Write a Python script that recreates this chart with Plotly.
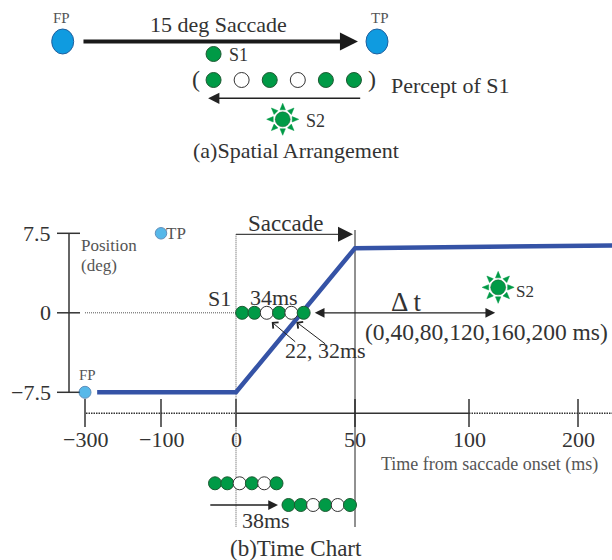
import numpy as np
import plotly.graph_objects as go

# ---------------- data ----------------
# (b) time chart
TIME_TICKS = [-300, -100, 0, 50, 100, 200]            # ms from saccade onset
TIME_TICK_TEXT = ["−300", "−100", "0", "50", "100", "200"]
POS_TICKS = [7.5, 0.0, -7.5]                          # deg
POS_TICK_TEXT = ["7.5", "0", "−7.5"]

EYE_T = [-268, 0, 50, 235]                            # eye trace, ms
EYE_POS = [-7.5, -7.5, 6.1, 6.35]                     # eye trace, deg

FP_TIME, FP_POS = -300, -7.5
TP_TIME, TP_POS = -100, 7.5
SACCADE_ON, SACCADE_OFF = 0, 50
S2_TIME, S2_POS = 124, 2.4

S1_PATTERN = [1, 1, 0, 1, 0, 1]                       # lit (1) / dark (0) flashes of S1
S1_DURATION_MS = 34
DARK_FLASH_MS = [22, 32]
S1_SHIFT_MS = 38
DELTA_T_MS = [0, 40, 80, 120, 160, 200]

# (a) spatial arrangement, deg of visual angle
SACCADE_AMP = 15
FP_DEG, TP_DEG = -7.5, 7.5
S1_DEG = -0.3
PERCEPT_STEP_DEG = 1.34
S2_DEG = 3.0
PERCEPT_PATTERN = S1_PATTERN[::-1]

# ---------------- styling ----------------
W, H = 612, 560
SERIF = "Liberation Serif"
TXT = "#333333"
GREY = "#555555"
AXC = "#333333"
GREEN, GREEN_EDGE = "#009a46", "#1d5a32"
BLUE, BLUE_EDGE = "#0f9be0", "#1f5f9e"
EYE_BLUE = "#3553a6"

# broken time axis: display position of each tick
TICK_U = [85, 161, 236, 355, 469, 578]


def tx(t):
    """Map ms onto the piecewise time axis."""
    t = np.asarray(t, dtype=float)
    u = np.interp(t, TIME_TICKS, TICK_U)
    slope = (TICK_U[-1] - TICK_U[-2]) / (TIME_TICKS[-1] - TIME_TICKS[-2])
    u = np.where(t > TIME_TICKS[-1], TICK_U[-1] + (t - TIME_TICKS[-1]) * slope, u)
    return u if u.ndim else float(u)


# position axis of (b)
Y0_PX, PX_PER_DEG = 312.8, 10.6
Y_RANGE = [-(H - Y0_PX) / PX_PER_DEG, Y0_PX / PX_PER_DEG]


def yb(px):
    """Row (px from top) -> deg on the position axis of (b)."""
    return (Y0_PX - px) / PX_PER_DEG


# horizontal axis of (a)
A_PX_PER_DEG = 314.3 / SACCADE_AMP
A_X0 = 62.7 - FP_DEG * A_PX_PER_DEG
A_RANGE = [-A_X0 / A_PX_PER_DEG, (W - A_X0) / A_PX_PER_DEG]


def xa(px):
    return (px - A_X0) / A_PX_PER_DEG


fig = go.Figure()
ann = []


def label(text, x, y, size, ref="b", color=TXT, xanchor="center", yanchor="middle"):
    xr, yr = ("x", "y") if ref == "b" else ("x2", "y2")
    ann.append(dict(text=text, x=x, y=y, xref=xr, yref=yr, showarrow=False,
                    xanchor=xanchor, yanchor=yanchor,
                    font=dict(family=SERIF, size=size, color=color)))


def arrow(x, y, ax, ay, width, size, ref="b", head=2, color="#222222", both=False):
    xr, yr = ("x", "y") if ref == "b" else ("x2", "y2")
    ann.append(dict(text="", x=x, y=y, ax=ax, ay=ay, xref=xr, yref=yr,
                    axref=xr, ayref=yr, showarrow=True, arrowhead=head,
                    arrowsize=size, arrowwidth=width, arrowcolor=color,
                    standoff=0, startstandoff=0,
                    arrowside="end+start" if both else "end",
                    startarrowhead=head, startarrowsize=size))


def seg(xs, ys, color=AXC, width=1.5, dash="solid", ref="b"):
    fig.add_trace(go.Scatter(x=xs, y=ys, mode="lines", hoverinfo="skip",
                             line=dict(color=color, width=width, dash=dash),
                             xaxis="x" if ref == "b" else "x2",
                             yaxis="y" if ref == "b" else "y2"))


def dots(xs, ys, pattern, size, ref="b"):
    fills = [GREEN if p else "white" for p in pattern]
    edges = [GREEN_EDGE if p else "#333333" for p in pattern]
    fig.add_trace(go.Scatter(x=xs, y=ys, mode="markers", hoverinfo="skip",
                             marker=dict(size=size, color=fills,
                                         line=dict(color=edges, width=1)),
                             cliponaxis=False,
                             xaxis="x" if ref == "b" else "x2",
                             yaxis="y" if ref == "b" else "y2"))


def sun(cx, cy, kx, ky, ref="b"):
    """Flashing-stimulus glyph: disc with eight rays (offsets in px)."""
    xs, ys = [], []
    for k in range(8):
        th = np.deg2rad(45 * k)
        d = np.array([np.sin(th), -np.cos(th)])
        p = np.array([np.cos(th), np.sin(th)])
        pts = [9.5 * d + 2.7 * p, 16.0 * d, 9.5 * d - 2.7 * p, 9.5 * d + 2.7 * p]
        for q in pts:
            xs.append(cx + q[0] * kx)
            ys.append(cy + q[1] * ky)
        xs.append(None)
        ys.append(None)
    xa_, ya_ = ("x", "y") if ref == "b" else ("x2", "y2")
    fig.add_trace(go.Scatter(x=xs, y=ys, mode="lines", fill="toself",
                             fillcolor=GREEN, line=dict(color=GREEN, width=0.5),
                             hoverinfo="skip", xaxis=xa_, yaxis=ya_))
    fig.add_trace(go.Scatter(x=[cx], y=[cy], mode="markers", hoverinfo="skip",
                             marker=dict(size=15, color=GREEN,
                                         line=dict(color=GREEN_EDGE, width=0.5)),
                             xaxis=xa_, yaxis=ya_))


# ================= (a) Spatial arrangement =================
ROW_SAC, ROW_S1, ROW_PERCEPT, ROW_BACK, ROW_S2 = 41.5, 54, 80, 98.3, 119.3

shapes = []
for deg in (FP_DEG, TP_DEG):
    shapes.append(dict(type="circle", xref="x2", yref="y2",
                       x0=deg - 11 / A_PX_PER_DEG, x1=deg + 11 / A_PX_PER_DEG,
                       y0=ROW_SAC - 12.5, y1=ROW_SAC + 12.5,
                       fillcolor=BLUE, line=dict(color=BLUE_EDGE, width=1)))
label("FP", FP_DEG - 0.07, 18, 15, ref="a", color=GREY)
label("TP", TP_DEG + 0.15, 18, 15, ref="a", color=GREY)
label(f"{SACCADE_AMP} deg Saccade", xa(218), 24, 22, ref="a")
arrow(TP_DEG - 0.91, ROW_SAC, FP_DEG + 0.92, ROW_SAC, 4, 0.9, ref="a", color="#1a1a1a")

dots([S1_DEG], [ROW_S1], [1], 15, ref="a")
label("S1", S1_DEG + 0.66, ROW_S1 + 1, 18, ref="a", xanchor="left")

percept_x = [S1_DEG + i * PERCEPT_STEP_DEG for i in range(len(PERCEPT_PATTERN))]
dots(percept_x, [ROW_PERCEPT] * len(percept_x), PERCEPT_PATTERN, 15, ref="a")
label("(", percept_x[0] - 0.83, ROW_PERCEPT - 1, 24, ref="a")
label(")", percept_x[-1] + 0.86, ROW_PERCEPT - 1, 24, ref="a")
label("Percept of S1", xa(389), ROW_PERCEPT + 5, 22, ref="a", xanchor="left")
arrow(percept_x[0] - 0.26, ROW_BACK, percept_x[-1] + 0.37, ROW_BACK, 1.5, 1.5, ref="a")

sun(S2_DEG, ROW_S2, 1 / A_PX_PER_DEG, 1.0, ref="a")
label("S2", S2_DEG + 1.0, ROW_S2 + 2, 18, ref="a", xanchor="left")
label("(a)Spatial Arrangement", xa(295.5), 150.5, 22, ref="a")

# ================= (b) Time chart =================
AXIS_Y = yb(413.3)
YAXIS_U = 69

# position axis
seg([YAXIS_U, YAXIS_U], [POS_TICKS[0], POS_TICKS[-1]])
for v, t in zip(POS_TICKS, POS_TICK_TEXT):
    seg([57, 80], [v, v])
    label(t, 53, v, 22, xanchor="right")
label("Position", 79, yb(245), 17, color=GREY, xanchor="left")
label("(deg)", 79, yb(265), 17, color=GREY, xanchor="left")

# time axis: dotted outside the saccade window
seg([tx(TIME_TICKS[0]) + 1, tx(SACCADE_ON)], [AXIS_Y] * 2, dash="1.5px,1px")
seg([tx(SACCADE_ON), tx(100)], [AXIS_Y] * 2)
seg([tx(100), W], [AXIS_Y] * 2, dash="1.5px,1px")
for t, txt in zip(TIME_TICKS, TIME_TICK_TEXT):
    seg([tx(t)] * 2, [yb(399), yb(427)])
    label(txt, tx(t), yb(439), 22)
label("Time from saccade onset (ms)", 489, yb(464), 18, color=GREY)

# reference lines
seg([tx(TIME_TICKS[0]), tx(SACCADE_ON)], [0, 0], color=GREY, width=1, dash="1px,1px")
seg([tx(SACCADE_ON)] * 2, [yb(234.3), yb(527)], color=GREY, width=1, dash="1px,1px")
seg([tx(SACCADE_OFF)] * 2, [yb(230), yb(527)], color="#222222", width=1)

# saccade bracket
seg([tx(SACCADE_ON), tx(SACCADE_OFF) - 10], [yb(234.3)] * 2, color="#444444", width=1.2)
arrow(tx(SACCADE_OFF) - 2, yb(234.3), tx(SACCADE_OFF) - 12, yb(234.3), 1.2, 2.5)
label("Saccade", 285.5, yb(223), 23)

# eye position
fig.add_trace(go.Scatter(x=tx(EYE_T), y=EYE_POS, mode="lines", hoverinfo="skip",
                         line=dict(color=EYE_BLUE, width=4.5)))

# FP / TP
fig.add_trace(go.Scatter(x=[tx(FP_TIME), tx(TP_TIME)], y=[FP_POS, TP_POS],
                         mode="markers", hoverinfo="skip", cliponaxis=False,
                         marker=dict(size=[12, 11.5], color=BLUE,
                                     line=dict(color=BLUE_EDGE, width=1))))
label("FP", tx(FP_TIME) + 2, yb(375), 15, color=GREY)
label("TP", tx(TP_TIME) + 3, TP_POS, 17, color=GREY, xanchor="left")

# S1 flashes
STEP = 12.3
s1_u = [tx(SACCADE_ON) + (i + 0.5) * STEP for i in range(len(S1_PATTERN))]
dots(s1_u, [0] * len(s1_u), S1_PATTERN, 13)
label("S1", 219, yb(298), 22)
label(f"{S1_DURATION_MS}ms", 273.5, yb(297), 22)
dark_idx = [i for i, p in enumerate(S1_PATTERN) if p == 0]
tails = [(296.7, 343), (326.7, 345)]
for i, (ux, py) in zip(dark_idx, tails):
    arrow(s1_u[i] + 5, yb(322), ux, yb(py), 1, 1.6, head=4, color="#222222")
label(f"{DARK_FLASH_MS[0]}, {DARK_FLASH_MS[1]}ms", 325, yb(350), 22)

# delta t
arrow(tx(S2_TIME), 0, s1_u[-1] + 9.6, 0, 1.3, 1.5, both=True)
label("Δ t", 406, yb(302), 27)
label("(" + ",".join(str(v) for v in DELTA_T_MS) + " ms)", 363, yb(331.5), 23.5,
      xanchor="left")
sun(tx(S2_TIME) + 3, S2_POS, 1.0, -1 / PX_PER_DEG)
label("S2", tx(S2_TIME) + 19, S2_POS - 0.4, 17, xanchor="left")

# S1 sequence before and after the 38 ms shift
ROW1, ROW2 = yb(483.3), yb(505)
row1_u = [tx(SACCADE_ON) - 21 + i * STEP for i in range(len(S1_PATTERN))]
row2_u = [tx(SACCADE_OFF) - 5 - (len(S1_PATTERN) - 1 - i) * STEP for i in range(len(S1_PATTERN))]
dots(row1_u, [ROW1] * 6, S1_PATTERN, 13)
dots(row2_u, [ROW2] * 6, S1_PATTERN, 13)
arrow(row2_u[0] - 10.5, ROW2, row1_u[0] - 6.2, ROW2, 1.3, 1.5)
label(f"{S1_SHIFT_MS}ms", tx(SACCADE_ON) + 4, yb(520), 22, xanchor="left")
label("(b)Time Chart", 295.5, yb(548), 23)

fig.update_layout(
    width=W, height=H, margin=dict(l=0, r=0, t=0, b=0),
    paper_bgcolor="white", plot_bgcolor="white", showlegend=False,
    xaxis=dict(range=[0, W], visible=False, fixedrange=True),
    yaxis=dict(range=Y_RANGE, visible=False, fixedrange=True),
    xaxis2=dict(range=A_RANGE, visible=False, overlaying="x", anchor="y2", fixedrange=True),
    yaxis2=dict(range=[H, 0], visible=False, overlaying="y", anchor="x2", fixedrange=True),
    annotations=ann, shapes=shapes,
)

fig.write_html("out.html")
